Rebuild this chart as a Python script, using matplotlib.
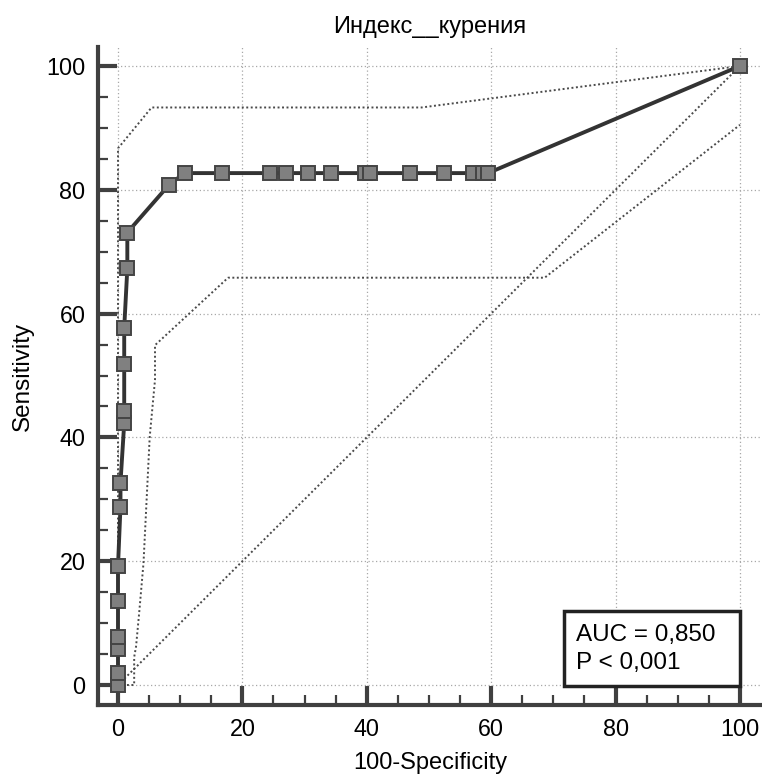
import matplotlib
matplotlib.use("Agg")
import matplotlib.pyplot as plt
from matplotlib.patches import Rectangle
from matplotlib.ticker import MultipleLocator

plt.rcParams['font.family'] = ['Liberation Sans', 'DejaVu Sans']

# ROC points (100-Specificity, Sensitivity)
fpr = [0, 0, 0, 0, 0, 0, 0.4, 0.4, 1.0, 1.0, 1.0, 1.0, 1.5, 1.5, 8.2, 10.7,
       16.7, 24.5, 27.0, 30.6, 34.2, 39.7, 40.5, 46.9, 52.4, 57.1, 58.7, 59.5, 100]
tpr = [0, 1.9, 5.8, 7.7, 13.5, 19.2, 28.8, 32.7, 42.3, 44.2, 51.9, 57.7, 67.3, 73.1,
       80.8, 82.7, 82.7, 82.7, 82.7, 82.7, 82.7, 82.7, 82.7, 82.7, 82.7, 82.7, 82.7,
       82.7, 100]

# confidence bounds
upper_x = [0, 0, 5.4, 48.8, 100]
upper_y = [0, 86.7, 93.3, 93.3, 100]
lower_x = [0, 2.6, 2.6, 2.9, 3.4, 4.1, 5.1, 5.95, 5.95, 17.7, 68.6, 100]
lower_y = [0, 0, 4.5, 6.2, 11.6, 19.7, 40.1, 49.3, 54.9, 65.8, 65.8, 90.5]

ref = [0, 100]

title = 'Индекс__курения'
auc_text = 'AUC = 0,850\nP < 0,001'

fig = plt.figure(figsize=(7.62, 7.75), dpi=100)
ax = fig.add_axes([98 / 762, 70 / 775, 664 / 762, 658 / 775])

ax.set_xlim(-3.215, 103.54)
ax.set_ylim(-3.23, 103.07)

# grid
ax.xaxis.set_major_locator(MultipleLocator(20))
ax.yaxis.set_major_locator(MultipleLocator(20))
ax.xaxis.set_minor_locator(MultipleLocator(5))
ax.yaxis.set_minor_locator(MultipleLocator(5))
ax.grid(True, which='major', color='#a8a8a8', linestyle=(0, (1, 2)), linewidth=0.9)
ax.set_axisbelow(True)

# diagonal and confidence bands
band_style = dict(color='#4a4a4a', linestyle=(0, (1, 1.3)), linewidth=1.4)
ax.plot(ref, ref, **band_style)
ax.plot(upper_x, upper_y, **band_style)
ax.plot(lower_x, lower_y, **band_style)

# ROC curve
ax.plot(fpr, tpr, color='#333333', linewidth=2.8, marker='s', markersize=10,
        markerfacecolor='#808080', markeredgecolor='#444444', markeredgewidth=1.4,
        clip_on=False, zorder=5)

for side in ['top', 'right']:
    ax.spines[side].set_visible(False)
for side in ['left', 'bottom']:
    ax.spines[side].set_color('#404040')
    ax.spines[side].set_linewidth(3)

ax.tick_params(which='major', direction='in', length=14, width=3, color='#404040',
               labelsize=16.8, pad=9)
ax.tick_params(which='minor', direction='in', length=7.5, width=1.6, color='#404040')

ax.set_title(title, fontsize=17, pad=10)
ax.set_xlabel('100-Specificity', fontsize=17)
ax.set_ylabel('Sensitivity', fontsize=17.5)
ax.xaxis.set_label_coords(0.5, -0.071)
ax.yaxis.set_label_coords(-0.097, 0.5)

# AUC box
ax.add_patch(Rectangle((71.7, -0.2), 28.3, 12.2, facecolor='white',
                       edgecolor='#222222', linewidth=2.5, zorder=6))
ax.text(73.6, 5.8, auc_text, fontsize=17.5, ha='left', va='center',
        linespacing=1.32, zorder=7)

fig.savefig('out.png', dpi=100)
